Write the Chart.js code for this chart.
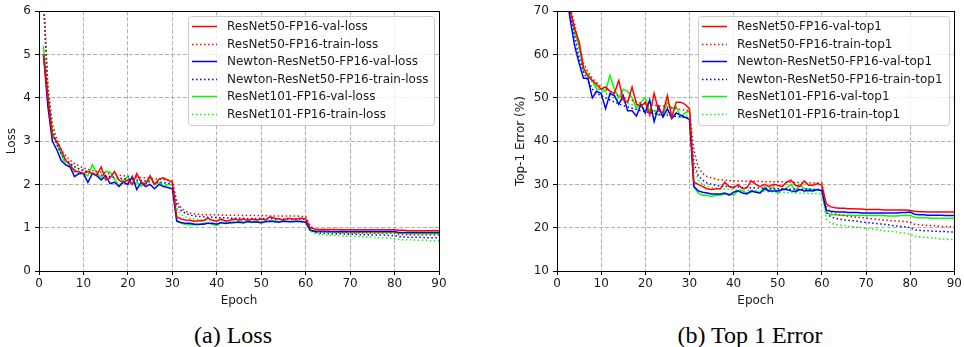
<!DOCTYPE html>
<html>
<head>
<meta charset="utf-8">
<script src="https://cdn.jsdelivr.net/npm/chart.js@4.4.1/dist/chart.umd.min.js"></script>
<style>
  body { margin: 0; background: #fff; width: 964px; height: 347px; position: relative; overflow: hidden; }
  canvas { position: absolute; top: 0; }
  .caption { position: absolute; top: 321px; height: 28px; line-height: 28px; font-family: 'Liberation Serif', serif; font-size: 24px; color: #000; text-align: center; }
</style>
</head>
<body>
<canvas id="lossChart" width="450" height="310" style="left:0"></canvas>
<canvas id="topChart" width="482" height="310" style="left:482px"></canvas>
<div class="caption" style="left:133px;width:200px">(a) Loss</div>
<div class="caption" style="left:630px;width:240px">(b) Top 1 Error</div>
<script>
// epochs 1..90
const epochs = Array.from({ length: 90 }, (_, i) => i + 1);
const xTicks = [0, 10, 20, 30, 40, 50, 60, 70, 80, 90];

const lossLabels = ['ResNet50-FP16-val-loss', 'ResNet50-FP16-train-loss', 'Newton-ResNet50-FP16-val-loss',
  'Newton-ResNet50-FP16-train-loss', 'ResNet101-FP16-val-loss', 'ResNet101-FP16-train-loss'];
const topLabels = ['ResNet50-FP16-val-top1', 'ResNet50-FP16-train-top1', 'Newton-ResNet50-FP16-val-top1',
  'Newton-ResNet50-FP16-train-top1', 'ResNet101-FP16-val-top1', 'ResNet101-FP16-train-top1'];

// loss curves
const lossR50Val = [
  5.0, 4.0, 3.1, 3.0, 2.8, 2.55, 2.45, 2.3, 2.3, 2.25,
  2.3, 2.25, 2.22, 2.4, 2.1, 2.15, 2.3, 2.1, 2.05, 2.1,
  2.0, 2.25, 2.05, 2.0, 2.2, 2.0, 2.12, 2.15, 2.1, 2.05,
  1.25, 1.2, 1.18, 1.17, 1.15, 1.16, 1.16, 1.22, 1.17, 1.15,
  1.2, 1.15, 1.17, 1.2, 1.18, 1.2, 1.17, 1.2, 1.18, 1.2,
  1.18, 1.25, 1.22, 1.2, 1.18, 1.22, 1.2, 1.2, 1.22, 1.2,
  1.0, 0.97, 0.96, 0.96, 0.96, 0.96, 0.96, 0.95, 0.95, 0.95,
  0.95, 0.95, 0.95, 0.95, 0.95, 0.95, 0.95, 0.95, 0.95, 0.95,
  0.94, 0.94, 0.93, 0.93, 0.93, 0.93, 0.93, 0.93, 0.93, 0.93
];
const lossR50Train = [
  6.4, 4.3, 3.4, 3.05, 2.8, 2.66, 2.56, 2.48, 2.43, 2.38,
  2.35, 2.32, 2.3, 2.28, 2.26, 2.24, 2.22, 2.21, 2.2, 2.19,
  2.18, 2.17, 2.16, 2.15, 2.14, 2.13, 2.12, 2.11, 2.1, 2.08,
  1.6, 1.45, 1.38, 1.34, 1.32, 1.31, 1.3, 1.3, 1.3, 1.3,
  1.29, 1.29, 1.29, 1.29, 1.28, 1.28, 1.28, 1.28, 1.28, 1.28,
  1.28, 1.27, 1.27, 1.27, 1.27, 1.27, 1.27, 1.27, 1.26, 1.26,
  1.05, 0.95, 0.92, 0.91, 0.9, 0.9, 0.89, 0.89, 0.89, 0.88,
  0.88, 0.88, 0.88, 0.88, 0.87, 0.87, 0.87, 0.87, 0.87, 0.87,
  0.84, 0.84, 0.84, 0.83, 0.83, 0.83, 0.83, 0.83, 0.83, 0.83
];
const lossNewtonVal = [
  5.0, 3.8, 3.0, 2.8, 2.55, 2.45, 2.4, 2.18, 2.25, 2.25,
  2.05, 2.25, 2.2, 2.1, 2.2, 2.02, 2.05, 1.95, 2.05, 2.0,
  2.18, 1.88, 2.05, 1.95, 2.0, 1.9, 2.0, 1.95, 1.93, 1.9,
  1.15, 1.12, 1.1, 1.1, 1.08, 1.08, 1.08, 1.1, 1.1, 1.08,
  1.12, 1.1, 1.12, 1.12, 1.13, 1.12, 1.14, 1.13, 1.13, 1.12,
  1.14, 1.15, 1.14, 1.13, 1.15, 1.14, 1.14, 1.15, 1.14, 1.13,
  0.95, 0.92, 0.92, 0.92, 0.92, 0.91, 0.91, 0.91, 0.91, 0.91,
  0.91, 0.91, 0.91, 0.91, 0.91, 0.91, 0.91, 0.91, 0.91, 0.91,
  0.89, 0.89, 0.89, 0.89, 0.89, 0.89, 0.89, 0.89, 0.89, 0.89
];
const lossNewtonTrain = [
  6.3, 4.1, 3.25, 2.92, 2.7, 2.57, 2.48, 2.41, 2.36, 2.32,
  2.29, 2.26, 2.24, 2.22, 2.2, 2.18, 2.16, 2.15, 2.13, 2.12,
  2.11, 2.1, 2.09, 2.08, 2.07, 2.06, 2.05, 2.04, 2.03, 2.02,
  1.55, 1.4, 1.33, 1.29, 1.27, 1.26, 1.25, 1.24, 1.24, 1.23,
  1.23, 1.23, 1.22, 1.22, 1.22, 1.22, 1.21, 1.21, 1.21, 1.21,
  1.21, 1.21, 1.2, 1.2, 1.2, 1.2, 1.2, 1.2, 1.2, 1.19,
  0.96, 0.9, 0.88, 0.87, 0.87, 0.86, 0.86, 0.86, 0.85, 0.85,
  0.85, 0.84, 0.84, 0.84, 0.83, 0.83, 0.83, 0.83, 0.82, 0.82,
  0.79, 0.79, 0.78, 0.78, 0.78, 0.78, 0.77, 0.77, 0.77, 0.77
];
const lossR101Val = [
  5.2, 4.1, 3.2, 2.95, 2.7, 2.45, 2.42, 2.35, 2.25, 2.25,
  2.2, 2.45, 2.25, 2.15, 2.3, 2.28, 2.12, 1.97, 2.1, 2.18,
  2.0, 2.05, 1.95, 2.05, 2.15, 2.0, 2.05, 1.95, 2.0, 2.0,
  1.15, 1.1, 1.08, 1.07, 1.07, 1.07, 1.1, 1.1, 1.08, 1.05,
  1.12, 1.1, 1.1, 1.12, 1.12, 1.1, 1.15, 1.12, 1.13, 1.1,
  1.15, 1.15, 1.17, 1.12, 1.17, 1.15, 1.15, 1.15, 1.15, 1.13,
  0.93, 0.9, 0.9, 0.9, 0.9, 0.9, 0.89, 0.89, 0.89, 0.89,
  0.89, 0.89, 0.89, 0.89, 0.89, 0.89, 0.89, 0.89, 0.89, 0.89,
  0.87, 0.87, 0.86, 0.86, 0.86, 0.86, 0.86, 0.86, 0.86, 0.86
];
const lossR101Train = [
  6.2, 4.2, 3.3, 2.95, 2.72, 2.58, 2.48, 2.41, 2.35, 2.31,
  2.27, 2.24, 2.22, 2.2, 2.18, 2.16, 2.14, 2.12, 2.11, 2.1,
  2.08, 2.07, 2.06, 2.05, 2.04, 2.03, 2.02, 2.01, 2.0, 1.99,
  1.45, 1.3, 1.25, 1.22, 1.2, 1.19, 1.18, 1.18, 1.17, 1.17,
  1.17, 1.17, 1.16, 1.16, 1.16, 1.16, 1.16, 1.16, 1.15, 1.15,
  1.15, 1.15, 1.15, 1.15, 1.15, 1.15, 1.15, 1.15, 1.15, 1.14,
  0.92, 0.87, 0.85, 0.84, 0.83, 0.82, 0.82, 0.81, 0.81, 0.8,
  0.8, 0.79, 0.79, 0.78, 0.78, 0.77, 0.77, 0.76, 0.76, 0.75,
  0.73, 0.72, 0.72, 0.72, 0.71, 0.71, 0.71, 0.7, 0.7, 0.7
];

// top-1 error curves (%)
const topR50Val = [
  88, 77, 70, 66, 63, 57, 55, 54, 53, 52,
  52.5, 51.5, 51, 54, 49.5, 49, 52.5, 48.5, 48, 49,
  46, 51, 47, 46.5, 50.5, 45.5, 49, 49, 48.5, 47.5,
  30.5, 30, 29.5, 29, 28.8, 29, 29, 30.5, 29.5, 29.2,
  30, 29, 29.2, 30.8, 30, 29.5, 30, 29.5, 30, 29.8,
  29.5, 30.5, 31, 29.8, 29.5, 30.8, 29.8, 29.8, 30.2, 29.8,
  25.5, 24.8, 24.6, 24.5, 24.5, 24.4, 24.4, 24.3, 24.3, 24.2,
  24.2, 24.2, 24.2, 24.1, 24.1, 24.1, 24.1, 24.1, 24.1, 24.0,
  23.8, 23.7, 23.7, 23.6, 23.6, 23.6, 23.6, 23.6, 23.6, 23.6
];
const topR50Train = [
  90, 79, 71, 67, 62, 58, 56, 54.5, 53.5, 52.5,
  52, 51.5, 51, 50.5, 50, 49.7, 49.4, 49.1, 48.8, 48.5,
  48.4, 48.3, 48.2, 48.1, 47.9, 47.7, 47.5, 47.3, 47.2, 47,
  38, 34, 32.5, 31.8, 31.5, 31.2, 31, 31, 30.9, 30.8,
  30.8, 30.8, 30.7, 30.7, 30.7, 30.7, 30.6, 30.6, 30.6, 30.6,
  30.6, 30.5, 30.5, 30.5, 30.4, 30.4, 30.4, 30.3, 30.3, 30.3,
  25, 23.5, 23.2, 23, 22.8, 22.6, 22.5, 22.4, 22.3, 22.2,
  22.1, 22, 21.9, 21.8, 21.7, 21.6, 21.5, 21.5, 21.4, 21.3,
  20.8, 20.7, 20.6, 20.5, 20.5, 20.4, 20.3, 20.3, 20.2, 20.2
];
const topNewtonVal = [
  86, 75, 68, 62, 58, 54.5, 54.5, 50, 51.5, 51,
  47.5, 51, 50.5, 48.5, 50.5, 47, 47, 45.8, 48.5, 46.5,
  49.5, 44.5, 48, 45.5, 47.5, 45.2, 46.5, 46, 45.5, 45,
  29.5, 28.5, 28.2, 28, 27.8, 27.8, 27.8, 28, 27.5, 28.2,
  28.5, 28, 27.8, 28.5, 28.2, 28, 29, 28.5, 28.5, 28.5,
  28.8, 28.8, 28.5, 28.3, 28.8, 28.5, 28.6, 28.5, 28.8, 28.5,
  24, 23.8, 23.7, 23.6, 23.6, 23.5, 23.5, 23.5, 23.4, 23.4,
  23.4, 23.4, 23.4, 23.4, 23.4, 23.4, 23.4, 23.5, 23.5, 23.6,
  23.1, 23, 23, 22.9, 22.9, 22.9, 22.9, 22.8, 22.8, 22.8
];
const topNewtonTrain = [
  88, 76, 69, 64, 59, 56, 54, 52, 51, 50.5,
  50, 49.5, 49, 48.6, 48.2, 47.9, 47.6, 47.3, 47, 46.8,
  46.6, 46.4, 46.2, 46.1, 46, 45.8, 45.7, 45.6, 45.4, 45.3,
  35, 32, 31, 30.3, 30, 29.8, 29.6, 29.5, 29.5, 29.4,
  29.4, 29.3, 29.3, 29.2, 29.2, 29.1, 29.1, 29.1, 29, 29,
  29, 29, 28.9, 28.9, 28.9, 28.9, 28.8, 28.8, 28.8, 28.8,
  23.5, 22.5, 22.2, 22, 21.8, 21.7, 21.6, 21.5, 21.3, 21.2,
  21.1, 21, 20.9, 20.8, 20.7, 20.5, 20.4, 20.3, 20.2, 20,
  19.5, 19.4, 19.3, 19.3, 19.2, 19.2, 19.1, 19.1, 19, 19
];
const topR101Val = [
  89, 78, 71, 65, 62, 56, 55.5, 54, 52, 52,
  51.5, 55.2, 52, 50, 52, 51.5, 50, 47.5, 49, 50,
  47, 47, 46, 46, 49, 47.5, 48, 45.5, 46.5, 47,
  29.5, 28, 27.5, 27.5, 27.2, 27.5, 27.5, 27.8, 27.8, 27.5,
  28.5, 28.5, 28, 28.2, 28.5, 28, 29.5, 28.5, 29.5, 28,
  28.8, 29.2, 30, 28.5, 30, 29, 29, 28.8, 28.8, 28.5,
  23.5, 23, 23, 22.9, 22.9, 22.9, 22.8, 22.8, 22.8, 22.8,
  22.8, 22.8, 22.8, 22.8, 22.7, 22.7, 22.7, 22.8, 22.8, 22.9,
  22.4, 22.3, 22.3, 22.3, 22.2, 22.2, 22.2, 22.2, 22.2, 22.2
];
const topR101Train = [
  90, 78, 70, 65, 60, 57, 55, 53.5, 52.5, 51.5,
  51, 50.5, 50, 49.5, 49, 48.7, 48.4, 48.1, 47.8, 47.5,
  47.3, 47.1, 46.9, 46.7, 46.5, 46.4, 46.2, 46.1, 45.9, 45.8,
  34, 31, 30, 29.5, 29.2, 29.1, 29, 28.9, 28.9, 28.8,
  28.7, 28.7, 28.6, 28.6, 28.5, 28.5, 28.4, 28.3, 28.3, 28.2,
  28.2, 28.1, 28.1, 28, 28, 28, 27.9, 27.9, 27.8, 27.8,
  22, 21, 20.8, 20.6, 20.5, 20.3, 20.2, 20.1, 20, 19.8,
  19.7, 19.6, 19.5, 19.3, 19.2, 19.1, 19, 18.8, 18.7, 18.5,
  18, 17.9, 17.8, 17.7, 17.6, 17.5, 17.4, 17.4, 17.3, 17.3
];

const lineColors = ['#ff0000', '#ff0000', '#0000ff', '#0000ff', '#00ff00', '#00ff00'];

Chart.defaults.font.family = "'DejaVu Sans', sans-serif";
Chart.defaults.font.size = 12;
Chart.defaults.color = '#1a1a1a';

function makeDatasets(labels, series) {
  return series.map((vals, i) => ({
    label: labels[i],
    data: vals.map((v, j) => ({ x: epochs[j], y: v })),
    borderColor: lineColors[i],
    borderWidth: 1.5,
    borderDash: i % 2 === 1 ? [1.5, 2.5] : [],
    pointRadius: 0,
    tension: 0,
    fill: false
  }));
}

// spines on all four sides + legend box inside the plot
const framePlugin = {
  id: 'frame',
  afterDraw(chart) {
    const { ctx, chartArea: a } = chart;
    ctx.save();
    ctx.strokeStyle = '#000';
    ctx.lineWidth = 1;
    ctx.strokeRect(Math.round(a.left) + 0.5, Math.round(a.top) + 0.5,
      Math.round(a.right - a.left), Math.round(a.bottom - a.top));

    ctx.font = "12px 'DejaVu Sans'";
    const sets = chart.data.datasets;
    const textW = Math.max(...sets.map(d => ctx.measureText(d.label).width));
    const rowH = 17.6;
    const w = Math.round(textW + 45);
    const h = Math.round(21 + (sets.length - 1) * rowH);
    const x = Math.round(a.right - 5 - w);
    const y = Math.round(a.top + 5);
    ctx.fillStyle = 'rgba(255,255,255,0.8)';
    ctx.strokeStyle = '#cccccc';
    ctx.beginPath();
    ctx.roundRect(x + 0.5, y + 0.5, w, h, 3);
    ctx.fill();
    ctx.stroke();
    ctx.textBaseline = 'middle';
    sets.forEach((d, i) => {
      const cy = Math.round(y + 10 + i * rowH) + 0.5;
      ctx.strokeStyle = d.borderColor;
      ctx.lineWidth = d.borderWidth;
      ctx.setLineDash(d.borderDash);
      ctx.beginPath();
      ctx.moveTo(x + 4, cy);
      ctx.lineTo(x + 29, cy);
      ctx.stroke();
      ctx.setLineDash([]);
      ctx.fillStyle = '#1a1a1a';
      ctx.fillText(d.label, x + 39, cy);
    });
    ctx.restore();
  }
};

function axisX() {
  return {
    type: 'linear', min: 0, max: 90,
    afterBuildTicks: s => { s.ticks = xTicks.map(v => ({ value: v })); },
    afterFit: s => { s.height = 39; },
    grid: { color: '#b0b0b0', tickColor: '#000', tickLength: 4, lineWidth: 1 },
    border: { display: false, dash: [4, 2] },
    ticks: { padding: 2, maxRotation: 0 },
    title: { display: true, text: 'Epoch', padding: { top: 0, bottom: 2 } }
  };
}

function axisY(min, max, step, title, width, titlePad) {
  return {
    min, max,
    afterFit: s => { s.width = width; },
    grid: { color: '#b0b0b0', tickColor: '#000', tickLength: 4, lineWidth: 1 },
    border: { display: false, dash: [4, 2] },
    ticks: { stepSize: step, padding: 4 },
    title: { display: true, text: title, padding: { top: titlePad, bottom: 0 } }
  };
}

function buildChart(id, labels, series, yAxis, padRight) {
  new Chart(document.getElementById(id), {
    type: 'line',
    data: { datasets: makeDatasets(labels, series) },
    options: {
      responsive: false,
      animation: false,
      layout: { padding: { left: 0, top: 11, right: padRight, bottom: 0 } },
      plugins: { legend: { display: false }, tooltip: { enabled: false } },
      scales: { x: axisX(), y: yAxis }
    },
    plugins: [framePlugin]
  });
}

buildChart('lossChart', lossLabels,
  [lossR50Val, lossR50Train, lossNewtonVal, lossNewtonTrain, lossR101Val, lossR101Train],
  axisY(0, 6, 1, 'Loss', 39, 5), 11);

buildChart('topChart', topLabels,
  [topR50Val, topR50Train, topNewtonVal, topNewtonTrain, topR101Val, topR101Train],
  axisY(10, 70, 10, 'Top-1 Error (%)', 75, 32), 8);
</script>
</body>
</html>
